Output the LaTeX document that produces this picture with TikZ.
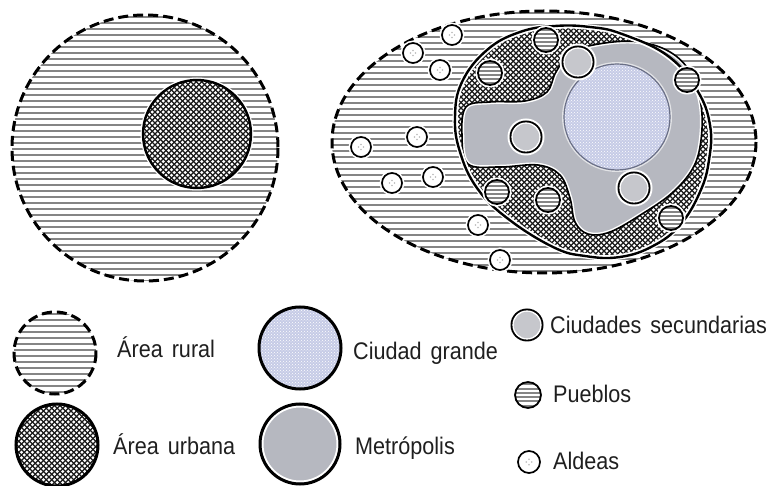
\documentclass[tikz,border=0pt]{standalone}
\usepackage{fontspec}
\setmainfont[FakeStretch=0.9,WordSpace=1.5]{Liberation Sans}
\usetikzlibrary{patterns}
\definecolor{ruralgray}{HTML}{858585}
\definecolor{bigblue}{HTML}{C6CBE6}
\definecolor{metrogray}{HTML}{B6B8C0}
\definecolor{secgray}{HTML}{C6C7CC}
\definecolor{bigedge}{HTML}{6A6F86}
\tikzset{
  stripe/.style={draw=ruralgray, line width=2.4},
  meshline/.style={draw=black!90, line width=1.2},
  ruraledge/.style={draw=black, line width=3, dash pattern=on 10pt off 5pt},
  urbanedge/.style={draw=black, line width=2.4},
  lbl/.style={anchor=base west, inner sep=0pt, font=\fontsize{24}{24}\selectfont, text=black!88},
  pueblo/.pic={
    \fill[white] (0,0) circle[radius=14.5];
    \begin{scope}
      \clip (0,0) circle[radius=12];
      \foreach \yy in {-10,-6,...,10} \draw[draw=ruralgray, line width=2] (-13,\yy) -- (13,\yy);
    \end{scope}
    \draw[line width=1.8] (0,0) circle[radius=12];
  },
  aldea/.pic={
    \fill[white] (0,0) circle[radius=12.5];
    \draw[line width=1.7] (0,0) circle[radius=10];
    \foreach \dx/\dy in {-2.5/0,2.5/0,0/-2.5,0/2.5} \fill[gray!55] (\dx,\dy) circle[radius=0.9];
  },
  secund/.pic={
    \fill[white] (0,0) circle[radius=18.5];
    \fill[black] (0,0) circle[radius=16.5];
    \fill[white] (0,0) circle[radius=14.6];
    \fill[secgray] (0,0) circle[radius=13.2];
  }
}
\begin{document}
\begin{tikzpicture}[x=1pt,y=-1pt]
\useasboundingbox (0,0) rectangle (772,486);
\fill[white] (0,0) rectangle (772,486);

% ---------- left: rural area with urban area ----------
\begin{scope}
  \clip (145,148) circle[radius=133];
  \foreach \yy in {17,23,...,281} \draw[stripe] (10,\yy) -- (280,\yy);
\end{scope}
\draw[ruraledge] (145,148) circle[radius=133];

\fill[white] (197,134) circle[radius=56.5];
\begin{scope}
  \clip (197,134) circle[radius=54];
  \foreach \a in {35,40.5,...,252} \draw[meshline] (\a,80) -- ++(108,108);
  \foreach \a in {143,148.5,...,362} \draw[meshline] (\a,80) -- ++(-108,108);
\end{scope}
\draw[urbanedge] (197,134) circle[radius=54];

% ---------- right: rural area ----------
\begin{scope}
  \clip (544,142) ellipse[x radius=212, y radius=131];
  \foreach \yy in {13,19,...,274} \draw[stripe] (330,\yy) -- (758,\yy);
\end{scope}
\draw[ruraledge] (544,142) ellipse[x radius=212, y radius=131];

% urban area
\path[save path=\urbp] plot[smooth cycle, tension=0.7] coordinates {
  (455,117) (462,82) (487,50) (520,32) (555,26) (590,27) (622,34) (668,56)
  (697,90) (710,125) (709,160) (700,192) (680,225) (653,246) (620,257)
  (585,256) (553,247) (507,218) (477,188) (460,152)};
\draw[white, line width=5, use path=\urbp];
\begin{scope}
  \clip[use path=\urbp];
  \fill[white] (440,15) rectangle (720,265);
  \foreach \a in {208,213.5,...,724} \draw[meshline] (\a,20) -- ++(242,242);
  \foreach \a in {450,455.5,...,966} \draw[meshline] (\a,20) -- ++(-242,242);
\end{scope}

% metropolis
\path[save path=\metrop] plot[smooth cycle, tension=0.6] coordinates {
  (462,135) (466,107) (490,102) (525,101) (547,92) (556,72) (572,52) (605,43)
  (640,42) (670,52) (690,72) (701,105) (701,140) (693,168) (672,193) (642,214)
  (610,232) (588,234) (575,222) (570,198) (560,175) (538,165) (500,167) (468,164)};
\fill[metrogray, use path=\metrop];
\begin{scope}
  \clip[use path=\metrop];
  \draw[white, line width=4.5, use path=\metrop];
\end{scope}
\draw[black, line width=1.6, use path=\metrop];

% big city
\draw[white!60!metrogray, line width=4] (617,117) circle[radius=53];
\fill[bigblue] (617,117) circle[radius=53];
\fill[pattern=crosshatch dots, pattern color=white] (617,117) circle[radius=53];
\draw[bigedge, line width=1.2] (617,117) circle[radius=53];

% urban border
\begin{scope}
  \clip[use path=\urbp];
  \draw[white, line width=6, use path=\urbp];
\end{scope}
\draw[urbanedge, use path=\urbp];

% secondary cities
\pic (s1) at (578,62) {secund};
\pic (s2) at (526,137) {secund};
\pic (s3) at (634,188) {secund};

% towns
\pic (p1) at (546,40) {pueblo};
\pic (p2) at (490,73) {pueblo};
\pic (p3) at (687,80) {pueblo};
\pic (p4) at (497,192) {pueblo};
\pic (p5) at (548,200) {pueblo};
\pic (p6) at (671,218) {pueblo};

% villages
\pic (a1) at (452,35) {aldea};
\pic (a2) at (413,53) {aldea};
\pic (a3) at (440,70) {aldea};
\pic (a4) at (417,137) {aldea};
\pic (a5) at (361,147) {aldea};
\pic (a6) at (433,177) {aldea};
\pic (a7) at (392,183) {aldea};
\pic (a8) at (478,225) {aldea};
\pic (a9) at (500,260) {aldea};

% ---------- legend ----------
\begin{scope}
  \clip (55,353) circle[radius=41];
  \foreach \yy in {314,320,...,394} \draw[stripe] (10,\yy) -- (100,\yy);
\end{scope}
\draw[ruraledge] (55,353) circle[radius=41];

\begin{scope}
  \clip (57,445) circle[radius=41];
  \foreach \a in {-70,-64.5,...,100} \draw[meshline] (\a,402) -- ++(86,86);
  \foreach \a in {14,19.5,...,186} \draw[meshline] (\a,402) -- ++(-86,86);
\end{scope}
\draw[black, line width=3] (57,445) circle[radius=41];

\fill[bigblue] (300,348) circle[radius=41];
\fill[pattern=crosshatch dots, pattern color=white] (300,348) circle[radius=41];
\draw[black, line width=3] (300,348) circle[radius=41];

\fill[metrogray] (300,444) circle[radius=40];
\draw[white, line width=2] (300,444) circle[radius=37.5];
\draw[black, line width=3] (300,444) circle[radius=40];

\pic (ls) at (527,325) {secund};
\pic[scale=1.08] (lp) at (528,395) {pueblo};
\pic[scale=1.1] (la) at (529,462) {aldea};

\node[lbl] (t1) at (117,358) {Área rural};
\node[lbl] (t2) at (113,455) {Área urbana};
\node[lbl] (t3) at (353,360) {Ciudad grande};
\node[lbl] (t4) at (355,455) {Metrópolis};
\node[lbl] (t5) at (550,334) {Ciudades secundarias};
\node[lbl] (t6) at (553,403) {Pueblos};
\node[lbl] (t7) at (553,470) {Aldeas};
\end{tikzpicture}
\end{document}
